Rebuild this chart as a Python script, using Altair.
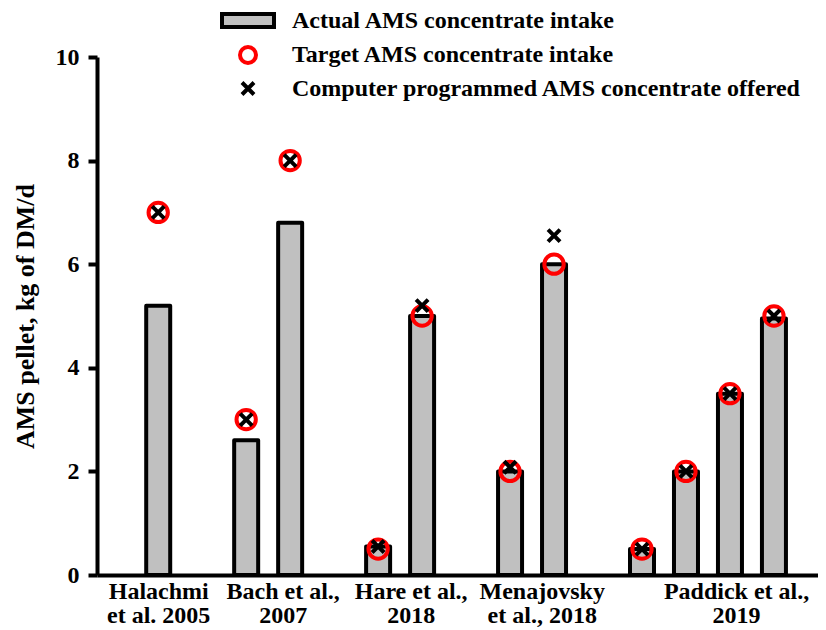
import altair as alt
import pandas as pd

# ---- data ----
study_lines = [["Halachmi", "et al. 2005"], ["Bach et al.,", "2007"], ["Hare et al.,", "2018"],
               ["Menajovsky", "et al., 2018"], ["Paddick et al.,", "2019"]]
bar_study = [0, 1, 1, 2, 2, 3, 3, 4, 4, 4, 4]
actual = [5.2, 2.6, 6.8, 0.55, 5.0, 2.0, 6.0, 0.5, 2.0, 3.5, 4.95]
target = [7.0, 3.0, 8.0, 0.5, 5.0, 2.0, 6.0, 0.5, 2.0, 3.5, 5.0]
offered = [7.0, 3.0, 8.0, 0.55, 5.2, 2.08, 6.55, 0.5, 2.0, 3.5, 5.0]
series = ["Actual AMS concentrate intake", "Target AMS concentrate intake",
          "Computer programmed AMS concentrate offered"]
y_ticks = [0, 2, 4, 6, 8, 10]

# ---- layout (not data) ----
label_slot = [0.0, 2.83, 5.74, 8.72, 13.14]
W, H = 721, 518
x_domain = [-1.278, 14.888]

slot = [i + s for i, s in enumerate(bar_study)]
bars = pd.DataFrame({"slot": slot, "value": actual, "series": series[0]})
circ = pd.DataFrame({"slot": slot, "value": target, "series": series[1]})
crss = pd.DataFrame({"slot": slot, "value": offered, "series": series[2]})

RECT = "M-3.25,-0.81H3.25V0.81H-3.25Z"
XPATH = "M-0.75,-0.75L0.75,0.75M-0.75,0.75L0.75,-0.75"
FONT = "Liberation Serif"

fill_scale = alt.Scale(domain=series, range=["#c0c0c0", "transparent", "#000000"])
stroke_scale = alt.Scale(domain=series, range=["#000000", "#ff0000", "#000000"])
shape_scale = alt.Scale(domain=series, range=[RECT, "circle", XPATH])

thr = [(label_slot[i] + label_slot[i + 1]) / 2 for i in range(len(label_slot) - 1)]
expr = "[" + ",".join("'" + l + "'" for l in study_lines[-1]) + "]"
for i in range(len(thr) - 1, -1, -1):
    arr = "[" + ",".join("'" + l + "'" for l in study_lines[i]) + "]"
    expr = f"datum.value < {thr[i]} ? {arr} : ({expr})"

x_enc = alt.X("slot:Q", scale=alt.Scale(domain=x_domain, nice=False, zero=False),
              axis=alt.Axis(values=label_slot, labelExpr=expr, ticks=False, grid=False,
                            title=None, labelFontSize=24, labelLineHeight=24,
                            labelPadding=4, domainWidth=4, domainColor="#000000",
                            labelColor="#000000", labelFont=FONT, labelFontWeight="bold",
                            labelAngle=0, labelOverlap=False, labelBound=False,
                            labelFlush=False))
y_enc = alt.Y("value:Q", scale=alt.Scale(domain=[0, 10], nice=False),
              axis=alt.Axis(values=y_ticks, title="AMS pellet, kg of DM/d", grid=False,
                            tickSize=9, tickWidth=4, domainWidth=4, tickColor="#000000",
                            domainColor="#000000", labelColor="#000000",
                            labelFont=FONT, labelFontWeight="bold", labelFontSize=24,
                            labelPadding=9, titleFont=FONT, titleFontWeight="bold",
                            titleFontSize=26, titleColor="#000000", titlePadding=17))

leg = alt.Legend(title=None, orient="none", legendX=139, legendY=-48.5, symbolSize=256,
                 symbolStrokeWidth=4, labelFont=FONT, labelFontWeight="bold",
                 labelFontSize=24, labelColor="#000000", labelLimit=0, labelOffset=32,
                 rowPadding=3.5, padding=0)

bar_layer = alt.Chart(bars).mark_bar(size=24, strokeWidth=4, strokeJoin="round").encode(
    x=x_enc, y=y_enc,
    fill=alt.Fill("series:N", scale=fill_scale, legend=leg),
    stroke=alt.Stroke("series:N", scale=stroke_scale, legend=leg),
)
circ_layer = alt.Chart(circ).mark_point(size=373, strokeWidth=4, opacity=1).encode(
    x=x_enc, y=y_enc,
    fill=alt.Fill("series:N", scale=fill_scale, legend=leg),
    stroke=alt.Stroke("series:N", scale=stroke_scale, legend=leg),
    shape=alt.Shape("series:N", scale=shape_scale, legend=leg),
)
crss_layer = alt.Chart(crss).mark_point(size=256, strokeWidth=4, opacity=1).encode(
    x=x_enc, y=y_enc,
    fill=alt.Fill("series:N", scale=fill_scale, legend=leg),
    stroke=alt.Stroke("series:N", scale=stroke_scale, legend=leg),
    shape=alt.Shape("series:N", scale=shape_scale, legend=leg),
)

chart = alt.layer(bar_layer, circ_layer, crss_layer).properties(
    width=W, height=H,
    autosize=alt.AutoSizeParams(type="none"),
    padding={"left": 89, "top": 49, "right": 0, "bottom": 55},
    background="white",
).configure_view(stroke=None)

chart.save("out.html", embed_options={"renderer": "svg", "actions": False})
